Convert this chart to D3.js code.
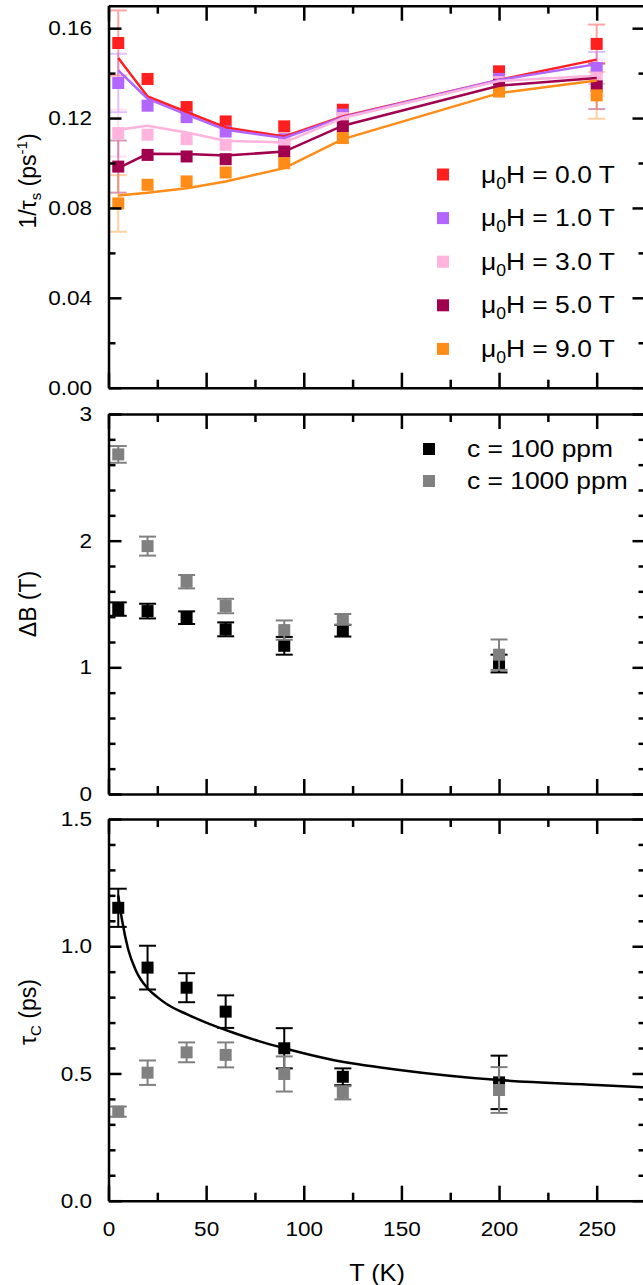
<!DOCTYPE html>
<html>
<head>
<meta charset="utf-8">
<script src="https://cdn.jsdelivr.net/npm/d3@7"></script>
<style>
  body { margin: 0; background: #fff; }
  svg text { font-family: "Liberation Sans", Arial, sans-serif; fill: #000; }
</style>
</head>
<body>
<div id="chart"></div>
<script>
// temperatures (K)
var temps = [5, 20, 40, 60, 90, 120, 200, 250];
var temps2 = [5, 20, 40, 60, 90, 120, 200];

// panel 1 : 1/tau_s (ps^-1) for each field
var fieldLabels = ["0.0", "1.0", "3.0", "5.0", "9.0"];
var rate0T = [0.1534, 0.1374, 0.1249, 0.1185, 0.1163, 0.1237, 0.1408, 0.1530];
var rate1T = [0.1356, 0.1255, 0.1204, 0.1140, 0.1106, 0.1215, 0.1374, 0.1423];
var rate3T = [0.1133, 0.1126, 0.1106, 0.1081, 0.1089, 0.1200, 0.1360, 0.1380];
var rate5T = [0.0984, 0.1036, 0.1029, 0.1017, 0.1051, 0.1163, 0.1348, 0.1341];
var rate9T = [0.0820, 0.0903, 0.0918, 0.0958, 0.0999, 0.1111, 0.1318, 0.1301];
var err0T = [0.0145, null, null, null, null, null, null, 0.0086];
var err1T = [0.0130, null, null, null, null, null, null, 0.0071];
var err3T = [0.0104, null, null, null, null, null, null, 0.0080];
var err5T = [0.0116, null, null, null, null, null, null, 0.0101];
var err9T = [0.0126, null, null, null, null, null, null, 0.0104];
var fit0T = [0.1467, 0.1296, 0.1227, 0.1158, 0.1118, 0.1207, 0.1370, 0.1460];
var fit1T = [0.1412, 0.1286, 0.1215, 0.1148, 0.1111, 0.1204, 0.1370, 0.1440];
var fit3T = [0.1148, 0.1166, 0.1136, 0.1099, 0.1091, 0.1200, 0.1365, 0.1388];
var fit5T = [0.0977, 0.1041, 0.1040, 0.1033, 0.1051, 0.1166, 0.1344, 0.1378];
var fit9T = [0.0855, 0.0868, 0.0888, 0.0918, 0.0977, 0.1106, 0.1311, 0.1367];

// panel 2 : Delta B (T)
var concLabels = ["c = 100 ppm", "c = 1000 ppm"];
var dB100 = [1.460, 1.444, 1.392, 1.300, 1.170, 1.289, 1.030];
var dB100err = [0.053, 0.058, 0.050, 0.055, 0.070, 0.046, 0.070];
var dB1000 = [2.681, 1.957, 1.676, 1.484, 1.294, 1.379, 1.100];
var dB1000err = [0.066, 0.075, 0.053, 0.057, 0.076, 0.042, 0.120];

// panel 3 : tau_C (ps)
var tauC100 = [1.151, 0.916, 0.837, 0.743, 0.599, 0.487, 0.465];
var tauC100err = [0.075, 0.086, 0.057, 0.064, 0.079, 0.033, 0.105];
var tauC1000 = [0.350, 0.503, 0.583, 0.573, 0.498, 0.424, 0.435];
var tauC1000err = [0.020, 0.048, 0.039, 0.049, 0.069, 0.026, 0.090];
// fitted curve
var fitT = [5, 7, 10, 14, 20, 25, 30, 40, 50, 64, 77, 90, 115, 149, 200, 250, 275];
var fitTau = [1.20, 1.10, 0.99, 0.905, 0.835, 0.80, 0.772, 0.733, 0.700, 0.66, 0.627, 0.599, 0.553, 0.514, 0.474, 0.455, 0.445];

// ticks
var xMajor = [0, 50, 100, 150, 200, 250];
var xMinor = [25, 75, 125, 175, 225];
var y1Major = [0, 0.04, 0.08, 0.12, 0.16];
var y1Minor = [0.02, 0.06, 0.10, 0.14];
var y2Major = [0, 1, 2, 3];
var y2Minor = [0.2, 0.4, 0.6, 0.8, 1.2, 1.4, 1.6, 1.8, 2.2, 2.4, 2.6, 2.8];
var y3Major = [0, 0.5, 1.0, 1.5];
var y3Minor = [0.1, 0.2, 0.3, 0.4, 0.6, 0.7, 0.8, 0.9, 1.1, 1.2, 1.3, 1.4];

var fieldColors = ["#ff1f1f", "#b266ff", "#ffb3dd", "#a1004f", "#ff8c17"];
var concColors = ["#000000", "#808080"];

var svg = d3.select("#chart").append("svg")
            .attr("width", 643)
            .attr("height", 1285);

var x = d3.scaleLinear().domain([0, 275]).range([108.5, 645.5]);
var y1 = d3.scaleLinear().domain([0, 0.17]).range([387.7, 5.7]);
var y2 = d3.scaleLinear().domain([0, 3]).range([794, 414]);
var y3 = d3.scaleLinear().domain([0, 1.5]).range([1200.7, 819]);

var FONT = "'Liberation Sans', Arial, sans-serif";

// text stretched a bit wider, like the original figure
function label(parent, px, py, size) {
    return parent.append("g")
        .attr("transform", "translate(" + px + "," + py + ") scale(1.1,1)")
        .append("text")
        .attr("font-size", size);
}

function styleAxis(g, labels) {
    g.attr("font-family", FONT).attr("font-size", 20.5);
    g.selectAll("path.domain").attr("stroke", "#000").attr("stroke-width", 2.5);
    g.selectAll(".tick line").attr("stroke", "#000").attr("stroke-width", 2.5);
    if (labels) {
        g.selectAll(".tick text").attr("fill", "#000").attr("transform", "scale(1.1,1)");
    }
}

function frame(y, major, minor, fmt, xLabels) {
    var top = y.range()[1], bot = y.range()[0];
    var left = x.range()[0], right = x.range()[1];

    // minor ticks first
    [[d3.axisBottom(x).tickValues(xMinor).tickSize(-8), "0," + bot],
     [d3.axisTop(x).tickValues(xMinor).tickSize(-8), "0," + top],
     [d3.axisLeft(y).tickValues(minor).tickSize(-7), left + ",0"],
     [d3.axisRight(y).tickValues(minor).tickSize(-7), right + ",0"]].forEach(function(a) {
        var g = svg.append("g")
                   .attr("transform", "translate(" + a[1] + ")")
                   .call(a[0].tickFormat(""));
        g.select("path.domain").remove();
        styleAxis(g, false);
    });

    var gb = svg.append("g")
       .attr("transform", "translate(0," + bot + ")")
       .call(d3.axisBottom(x).tickValues(xMajor).tickSize(-15).tickSizeOuter(0)
             .tickPadding(21).tickFormat(xLabels ? d3.format("d") : ""));
    styleAxis(gb, xLabels);

    var gt = svg.append("g")
       .attr("transform", "translate(0," + top + ")")
       .call(d3.axisTop(x).tickValues(xMajor).tickSize(-15).tickSizeOuter(0).tickFormat(""));
    styleAxis(gt, false);

    var gl = svg.append("g")
       .attr("transform", "translate(" + left + ",0)")
       .call(d3.axisLeft(y).tickValues(major).tickSize(-13).tickSizeOuter(0)
             .tickPadding(15).tickFormat(fmt));
    styleAxis(gl, true);

    var gr = svg.append("g")
       .attr("transform", "translate(" + right + ",0)")
       .call(d3.axisRight(y).tickValues(major).tickSize(-13).tickSizeOuter(0).tickFormat(""));
    styleAxis(gr, false);
}

function errorBars(y, tx, vals, errs, color, opacity) {
    var g = svg.append("g")
               .attr("stroke", color)
               .attr("stroke-width", 2)
               .attr("opacity", opacity);
    tx.forEach(function(t, i) {
        if (errs[i] == null) return;
        var cx = x(t), hi = y(vals[i] + errs[i]), lo = y(vals[i] - errs[i]);
        g.append("line").attr("x1", cx).attr("x2", cx).attr("y1", hi).attr("y2", lo);
        g.append("line").attr("x1", cx - 8.5).attr("x2", cx + 8.5).attr("y1", hi).attr("y2", hi);
        g.append("line").attr("x1", cx - 8.5).attr("x2", cx + 8.5).attr("y1", lo).attr("y2", lo);
    });
}

function squares(y, tx, vals, color) {
    svg.append("g").selectAll("rect")
       .data(tx)
       .enter()
       .append("rect")
       .attr("x", function(d) { return x(d) - 6; })
       .attr("y", function(d, i) { return y(vals[i]) - 6; })
       .attr("width", 12)
       .attr("height", 12)
       .attr("fill", color);
}

// ---------------- panel 1 ----------------
var rates = [rate0T, rate1T, rate3T, rate5T, rate9T];
var errs = [err0T, err1T, err3T, err5T, err9T];
var fits = [fit0T, fit1T, fit3T, fit5T, fit9T];

rates.forEach(function(r, k) {
    errorBars(y1, temps, r, errs[k], fieldColors[k], 0.4);
});
rates.forEach(function(r, k) {
    squares(y1, temps, r, fieldColors[k]);
});
fits.forEach(function(f, k) {
    var line = d3.line()
                 .x(function(d) { return x(d); })
                 .y(function(d, i) { return y1(f[i]); });
    svg.append("path")
       .attr("d", line(temps))
       .attr("fill", "none")
       .attr("stroke", fieldColors[k])
       .attr("stroke-width", 2.5);
});

// legend
fieldLabels.forEach(function(lab, k) {
    var cy = 174.5 + k * 43.6;
    svg.append("rect")
       .attr("x", 437).attr("y", cy - 6)
       .attr("width", 12).attr("height", 12)
       .attr("fill", fieldColors[k]);
    var t = label(svg, 481, cy + 8, 24);
    t.append("tspan").text("\u03bc");
    t.append("tspan").attr("font-size", 16).attr("dy", 6).text("0");
    t.append("tspan").attr("dy", -6).text("H = " + lab + " T");
});

frame(y1, y1Major, y1Minor, d3.format(".2f"), false);

// ---------------- panel 2 ----------------
errorBars(y2, temps2, dB100, dB100err, concColors[0], 1);
squares(y2, temps2, dB100, concColors[0]);
errorBars(y2, temps2, dB1000, dB1000err, concColors[1], 1);
squares(y2, temps2, dB1000, concColors[1]);

concLabels.forEach(function(lab, k) {
    var cy = 449 + k * 32;
    svg.append("rect")
       .attr("x", 423).attr("y", cy - 6)
       .attr("width", 12).attr("height", 12)
       .attr("fill", concColors[k]);
    label(svg, 467, cy + 8, 24).text(lab);
});

frame(y2, y2Major, y2Minor, d3.format("d"), false);

// ---------------- panel 3 ----------------
errorBars(y3, temps2, tauC100, tauC100err, concColors[0], 1);
squares(y3, temps2, tauC100, concColors[0]);
errorBars(y3, temps2, tauC1000, tauC1000err, concColors[1], 1);
squares(y3, temps2, tauC1000, concColors[1]);

var fitLine = d3.line()
    .x(function(d) { return x(d); })
    .y(function(d, i) { return y3(fitTau[i]); })
    .curve(d3.curveMonotoneX);
svg.append("path")
   .attr("d", fitLine(fitT))
   .attr("fill", "none")
   .attr("stroke", "#000")
   .attr("stroke-width", 2.5);

frame(y3, y3Major, y3Minor, d3.format(".1f"), true);

// ---------------- axis titles ----------------
function yTitle(cy) {
    return svg.append("text")
              .attr("transform", "translate(36," + cy + ") rotate(-90)")
              .attr("text-anchor", "middle")
              .attr("font-size", 23);
}

var t1 = yTitle(181);
t1.append("tspan").text("1/\u03c4");
t1.append("tspan").attr("font-size", 15).attr("dy", 5).text("s");
t1.append("tspan").attr("dy", -5).text(" (ps");
t1.append("tspan").attr("font-size", 15).attr("dy", -9).text("-1");
t1.append("tspan").attr("dy", 9).text(")");

yTitle(604).text("\u0394B (T)");

var t3 = yTitle(1012);
t3.append("tspan").text("\u03c4");
t3.append("tspan").attr("font-size", 15).attr("dy", 5).text("C");
t3.append("tspan").attr("dy", -5).text(" (ps)");

label(svg, (x.range()[0] + x.range()[1]) / 2, 1281, 23)
    .attr("text-anchor", "middle")
    .text("T (K)");
</script>
</body>
</html>
